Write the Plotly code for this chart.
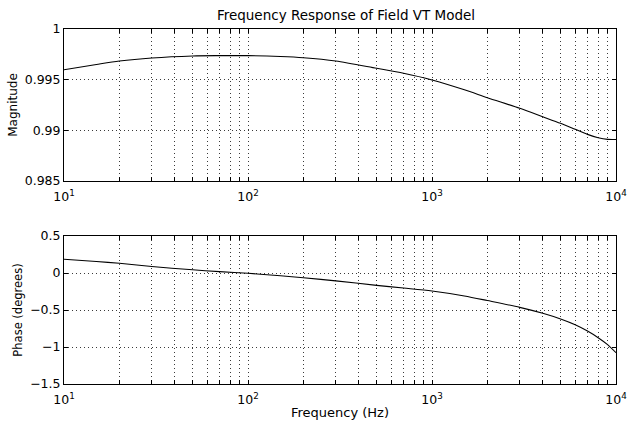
import plotly.graph_objects as go

freq = [10, 15, 20, 30, 50, 70, 100, 150, 200, 300, 500, 700, 1000, 1500, 2000, 3000, 4000, 5000, 6000, 7000, 8000, 9000, 10000]
magnitude = [0.99598, 0.99650, 0.99684, 0.99714, 0.99734, 0.99737, 0.99737, 0.99728, 0.99716, 0.99684, 0.99612, 0.99563, 0.99497, 0.99400, 0.99322, 0.99217, 0.99134, 0.99069, 0.99010, 0.98960, 0.98927, 0.98911, 0.98910]
phase = [0.185, 0.155, 0.131, 0.088, 0.043, 0.018, -0.004, -0.038, -0.065, -0.106, -0.167, -0.203, -0.243, -0.310, -0.372, -0.464, -0.545, -0.622, -0.700, -0.785, -0.875, -0.968, -1.077]

title = "Frequency Response of Field VT Model"
mag_ticks = [0.985, 0.99, 0.995, 1.0]
mag_ticktext = ["0.985", "0.99", "0.995", "1"]
ph_ticks = [-1.5, -1, -0.5, 0, 0.5]
ph_ticktext = ["\u22121.5", "\u22121", "\u22120.5", "0", "0.5"]
x_decades = [10, 100, 1000, 10000]
x_decade_text = ["10<sup>1</sup>", "10<sup>2</sup>", "10<sup>3</sup>", "10<sup>4</sup>"]
x_minor = [d * m for d in [10, 100, 1000] for m in range(2, 10)]

FONT = "DejaVu Sans, Verdana, sans-serif"
TICKSIZE = 12.5

fig = go.Figure()
fig.add_trace(go.Scatter(x=freq, y=magnitude, mode="lines", line=dict(color="black", width=1.1, shape="spline", smoothing=0.8),
                         xaxis="x", yaxis="y", showlegend=False))
fig.add_trace(go.Scatter(x=freq, y=phase, mode="lines", line=dict(color="black", width=1.1, shape="spline", smoothing=0.8),
                         xaxis="x2", yaxis="y2", showlegend=False))

xdom = [64 / 628, 616 / 628]
GRID = dict(showgrid=True, gridcolor="#3a3a3a", griddash="1px,3px", gridwidth=1, ticks="inside", ticklen=4,
            tickcolor="black", showline=True, linecolor="black", linewidth=1, mirror="ticks",
            zeroline=False, tickfont=dict(size=TICKSIZE, color="black", family=FONT), automargin=False)
axcommon = dict(GRID, type="log", range=[1, 4], tickvals=x_decades, ticktext=x_decade_text, domain=xdom,
                ticklabelstandoff=4,
                minor=dict(tickvals=x_minor, showgrid=True, gridcolor="#3a3a3a", griddash="1px,3px",
                           gridwidth=1, ticks="inside", ticklen=4, tickcolor="black"))

fig.update_layout(
    width=628, height=423,
    margin=dict(l=0, r=0, t=0, b=0),
    paper_bgcolor="white", plot_bgcolor="white",
    font=dict(family=FONT, color="black", size=12),
    xaxis=dict(axcommon, anchor="y"),
    yaxis=dict(GRID, range=[0.985, 1.0], tickvals=mag_ticks, ticktext=mag_ticktext,
               domain=[1 - 181 / 423, 1 - 29 / 423], anchor="x",
               title=dict(text="Magnitude", font=dict(size=12), standoff=4)),
    xaxis2=dict(axcommon, anchor="y2",
                title=dict(text="Frequency (Hz)", font=dict(size=13), standoff=1)),
    yaxis2=dict(GRID, range=[-1.5, 0.5], tickvals=ph_ticks, ticktext=ph_ticktext,
                domain=[1 - 384 / 423, 1 - 236 / 423], anchor="x2",
                title=dict(text="Phase (degrees)", font=dict(size=11.5), standoff=5)),
    title=dict(text=title, x=346 / 628, xanchor="center", y=1 - 15 / 423, yanchor="middle",
               font=dict(size=13.5, family=FONT, color="black")),
)

fig.write_html("out.html")
